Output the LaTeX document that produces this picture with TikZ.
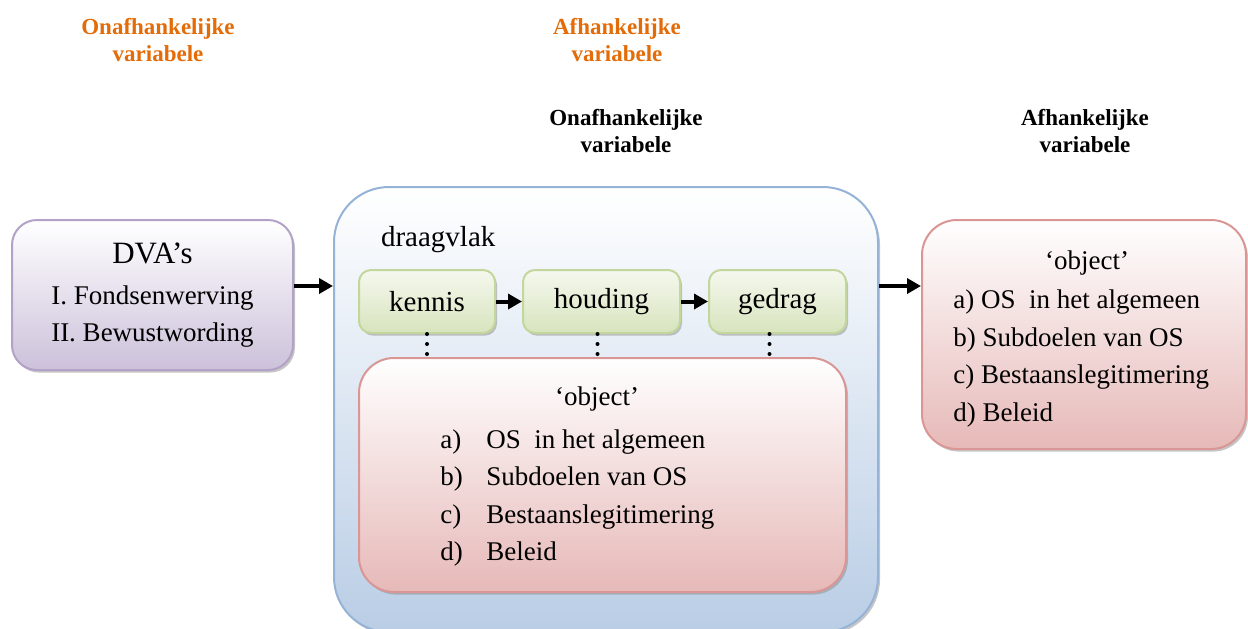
\documentclass[tikz,border=0pt]{standalone}
\usepackage{fontspec}
\setmainfont{Liberation Serif}
\usetikzlibrary{positioning,shadows,arrows.meta}
\definecolor{koporanje}{HTML}{E36C09}
\definecolor{dvarand}{HTML}{B3A2C7}
\definecolor{dvavul}{HTML}{CCC1DA}
\definecolor{blauwrand}{HTML}{95B3D7}
\definecolor{blauwvul}{HTML}{B9CDE5}
\definecolor{groenrand}{HTML}{C3D69B}
\definecolor{groenvul}{HTML}{D7E4BD}
\definecolor{rozerand}{HTML}{D99694}
\definecolor{rozevul}{HTML}{E6B9B8}

\tikzset{
	kop/.style={font=\fontsize{11.5}{13.5}\selectfont\bfseries, align=center},
	schaduw/.style={drop shadow={shadow xshift=1pt,shadow yshift=-1.3pt,fill=black!45}},
	dvabox/.style={draw=dvarand, line width=1pt, rounded corners=12.5pt, top color=white, bottom color=dvavul, schaduw, minimum width=140.5pt, minimum height=75pt, align=center, inner sep=0pt, font=\fontsize{13.5}{18.5}\selectfont},
	vlakbox/.style={draw=blauwrand, line width=1pt, rounded corners=27.5pt, top color=white, bottom color=blauwvul, schaduw, minimum width=272pt, minimum height=222.5pt},
	groenbox/.style={draw=groenrand, line width=1pt, rounded corners=6pt, top color=groenvul!25, bottom color=groenvul, schaduw, minimum height=31.5pt, font=\fontsize{14.5}{16}\selectfont},
	rozebox/.style={draw=rozerand, line width=1pt, rounded corners=17.5pt, top color=white, bottom color=rozevul, schaduw},
	lijst/.style={font=\fontsize{13.5}{18.7}\selectfont, align=left, inner sep=0pt, anchor=west},
	pijl/.style={line width=2pt, -{Triangle[length=7pt,width=7.5pt]}},
	stip/.style={line width=2pt, line cap=round, dash pattern=on 0pt off 5pt}
}

\begin{document}
\begin{tikzpicture}[x=0.5pt,y=-0.5pt]
	\useasboundingbox (0,0) rectangle (1248,628);
	
	% kopjes
	\node[kop,text=koporanje] (k1) at (158,40) {Onafhankelijke\\variabele};
	\node[kop,text=koporanje] (k2) at (617,40) {Afhankelijke\\variabele};
	\node[kop] (k3) at (626,131) {Onafhankelijke\\variabele};
	\node[kop] (k4) at (1085,131) {Afhankelijke\\variabele};
	
	% DVA
	\node[dvabox] (D) at (152.5,295) {{\fontsize{15.5}{18}\selectfont DVA’s}\\[2pt]
		I. Fondsenwerving\\
		II. Bewustwording};
	
	% draagvlak
	\node[vlakbox] (B) at (606,409.5) {};
	\node[anchor=west,font=\fontsize{14.5}{16}\selectfont] (dv) at (374,240) {draagvlak};
	\node[groenbox,minimum width=68pt] (K) at (427,301.5) {kennis};
	\node[groenbox,minimum width=78.5pt] (H) at (601.5,301.5) {houding};
	\node[groenbox,minimum width=68.5pt] (G) at (777.5,301.5) {gedrag};
	
	\node[rozebox,minimum width=243.5pt,minimum height=117pt] (O) at (602.5,475) {};
	\node[font=\fontsize{13.5}{16}\selectfont] (Ok) at (597,399) {‘object’};
	\node[lijst] (Ol) at (440,498) {\makebox[23pt][l]{a)}OS\ \ in het algemeen\\
		\makebox[23pt][l]{b)}Subdoelen van OS\\
		\makebox[23pt][l]{c)}Bestaanslegitimering\\
		\makebox[23pt][l]{d)}Beleid};
	
	% rechts
	\node[rozebox,minimum width=162pt,minimum height=114.5pt] (R) at (1084,334.5) {};
	\node[font=\fontsize{13.5}{16}\selectfont] (Rk) at (1087,263) {‘object’};
	\node[lijst] (Rl) at (953,358.5) {a) OS\ \ in het algemeen\\
		b) Subdoelen van OS\\
		c) Bestaanslegitimering\\
		d) Beleid};
	
	% pijlen
	\coordinate (m) at (900,286);
	\draw[pijl] (D.east |- m) -- (B.west |- m);
	\draw[pijl] (B.east |- m) -- (R.west |- m);
	\draw[pijl] (K) -- (H);
	\draw[pijl] (H) -- (G);
	
	\draw[stip] (K.south) -- (K.south |- O.north);
	\draw[stip] ([xshift=-2pt]H.south) -- ([xshift=-2pt]H.south |- O.north);
	\draw[stip] ([xshift=-4pt]G.south) -- ([xshift=-4pt]G.south |- O.north);
	
\end{tikzpicture}
\end{document}
